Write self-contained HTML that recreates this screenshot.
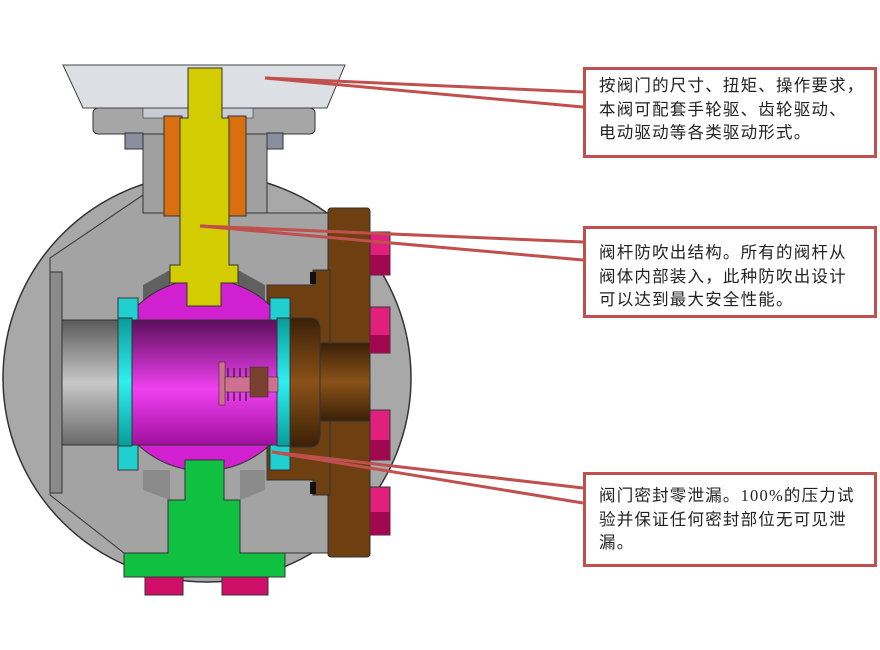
<!DOCTYPE html>
<html><head><meta charset="utf-8"><style>
html,body{margin:0;padding:0;background:#fff;width:880px;height:650px;overflow:hidden}
.box{position:absolute;left:583px;width:294px;border:3px solid #c0504d;background:#fff;font-family:"Liberation Serif","Noto Sans CJK SC",sans-serif;font-size:16.5px;line-height:23.5px;color:#222;padding:0 0 0 13px;box-sizing:border-box;letter-spacing:1.2px;white-space:nowrap}
</style></head><body>
<svg width="880" height="650" style="position:absolute;left:0;top:0">
<defs>
<linearGradient id="bore" x1="0" y1="0" x2="0" y2="1"><stop offset="0" stop-color="#5a5a5a"/><stop offset="0.5" stop-color="#c8c8c8"/><stop offset="1" stop-color="#6a6a6a"/></linearGradient>
<linearGradient id="ball" x1="0" y1="0" x2="0" y2="1"><stop offset="0" stop-color="#5c0f5c"/><stop offset="0.55" stop-color="#f040f0"/><stop offset="1" stop-color="#a010a0"/></linearGradient>
<linearGradient id="cy" x1="0" y1="0" x2="0" y2="1"><stop offset="0" stop-color="#0a9a9a"/><stop offset="0.5" stop-color="#30f0f0"/><stop offset="1" stop-color="#0a9a9a"/></linearGradient>
<linearGradient id="br" x1="0" y1="0" x2="0" y2="1"><stop offset="0" stop-color="#3a2008"/><stop offset="0.5" stop-color="#8a5218"/><stop offset="1" stop-color="#3a2008"/></linearGradient>
<clipPath id="bc"><rect x="131" y="250" width="147" height="250"/></clipPath>
</defs>
<circle cx="207" cy="378" r="204" fill="#a8a8a8" stroke="#333" stroke-width="1.5"/>
<path d="M50,258 L143,195 L143,213 L330,213 L330,553 L124,553 L50,495 Z" fill="#a3a3a3" stroke="#333" stroke-width="1"/>
<rect x="50" y="272" width="12" height="221" fill="#8a8a8a" stroke="#333"/>
<path d="M143,132 L267,132 L267,213 L143,213 Z" fill="#a0a0a0" stroke="#333"/>
<rect x="93" y="108" width="222" height="26" rx="5" fill="#a6a6a6" stroke="#333"/>
<rect x="125" y="133" width="18" height="16" fill="#8a8fa0" stroke="#333"/>
<rect x="267" y="133" width="16" height="16" fill="#8a8fa0" stroke="#333"/>
<rect x="143" y="108" width="110" height="10" fill="#c8ccd4" stroke="#333" stroke-width="0.6"/>
<path d="M63,65 L345,65 L327,108 L83,108 Z" fill="#dcdfe3" stroke="#444"/>
<rect x="164" y="116" width="18" height="100" fill="#d87010" stroke="#333"/>
<rect x="228" y="116" width="18" height="100" fill="#d87010" stroke="#333"/>
<path d="M143,285 L170,270 L170,300 L143,300Z M265,285 L238,270 L238,300 L265,300Z" fill="#606060"/>
<path d="M143,470 L143,490 L170,500 L170,470Z M265,470 L265,490 L240,500 L240,470Z" fill="#8a8a8a"/>
<rect x="62" y="320" width="58" height="125" fill="url(#bore)" stroke="#333"/>
<rect x="328" y="208" width="42" height="349" rx="3" fill="#6e3f10" stroke="#333"/>
<path d="M267,285 L313,285 L313,270 L330,270 L330,495 L313,495 L313,480 L267,480 Z" fill="#6e3f10" stroke="#333"/>
<rect x="310" y="272" width="6" height="12" fill="#111"/>
<rect x="310" y="482" width="6" height="12" fill="#111"/>
<rect x="320" y="343" width="50" height="78" fill="url(#br)" stroke="#333"/>
<path d="M285,318 L310,318 Q320,318 320,330 L320,435 Q320,447 310,447 L285,447 Z" fill="url(#br)" stroke="#333"/>
<g stroke="#333" fill="#e0207a"><rect x="370" y="232" width="20" height="43"/><rect x="370" y="307" width="20" height="46"/><rect x="370" y="410" width="20" height="50"/><rect x="370" y="487" width="20" height="48"/></g>
<g fill="#a00850"><rect x="370" y="255" width="20" height="20"/><rect x="370" y="335" width="20" height="18"/><rect x="370" y="440" width="20" height="20"/><rect x="370" y="512" width="20" height="23"/></g>
<circle cx="204" cy="375" r="96" fill="#d020d0" stroke="#333" clip-path="url(#bc)"/>
<rect x="131" y="320" width="147" height="125" fill="url(#ball)" stroke="#333"/>
<path d="M118,298 L138,298 L138,320 L132,320 L132,445 L138,445 L138,470 L118,470 Z" fill="#20d0d0" stroke="#333"/>
<rect x="118" y="318" width="14" height="128" fill="url(#cy)" stroke="#333"/>
<path d="M270,298 L290,298 L290,470 L270,470 L270,445 L277,445 L277,320 L270,320 Z" fill="#20d0d0" stroke="#333"/>
<rect x="277" y="318" width="13" height="128" fill="url(#cy)" stroke="#333"/>
<rect x="219" y="362" width="6" height="43" fill="#d07090" stroke="#333" stroke-width="0.6"/>
<rect x="225" y="377" width="53" height="15" fill="#d07090" stroke="#333" stroke-width="0.6"/>
<rect x="250" y="367" width="18" height="30" fill="#7a4030" stroke="#333" stroke-width="0.6"/>
<g fill="none" stroke="#222" stroke-width="1.2"><path d="M228,368 v9 M234,368 v9 M240,368 v9 M246,368 v9 M228,392 v9 M234,392 v9 M240,392 v9 M246,392 v9"/></g>
<path d="M188,68 L222,68 L222,118 L229,118 L229,265 L238,265 L238,283 L221,283 L221,306 L187,306 L187,283 L170,283 L170,265 L180,265 L180,118 L188,118 Z" fill="#d2cc00" stroke="#333"/>
<path d="M185,460 L224,460 L224,500 L240,500 L240,553 L285,553 L285,577 L124,577 L124,553 L168,553 L168,500 L185,500 Z" fill="#10c040" stroke="#333"/>
<g stroke="#333" fill="#d01068"><rect x="145" y="577" width="38" height="18"/><rect x="222" y="577" width="46" height="18"/></g>
<g stroke="#c0504d" stroke-width="3" fill="none">
<path d="M583,92 L265,78 L583,107"/>
<path d="M583,242 L200,226 L583,260"/>
<path d="M583,488 L272,452 L583,503"/>
</g>
</svg>
<div class="box" style="top:67px;height:91px;padding-top:4px">按阀门的尺寸、扭矩、操作要求，<br>本阀可配套手轮驱、齿轮驱动、<br>电动驱动等各类驱动形式。</div>
<div class="box" style="top:226px;height:92px;padding-top:12px">阀杆防吹出结构。所有的阀杆从<br>阀体内部装入，此种防吹出设计<br>可以达到最大安全性能。</div>
<div class="box" style="top:472px;height:95px;padding-top:9px">阀门密封零泄漏。100%的压力试<br>验并保证任何密封部位无可见泄<br>漏。</div>
</body></html>
